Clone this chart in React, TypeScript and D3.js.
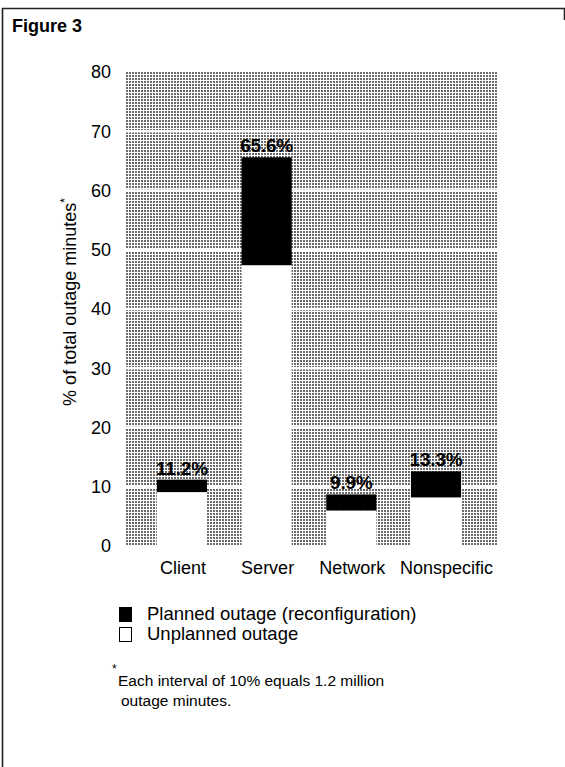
import * as d3 from 'd3';
import { useEffect, useRef } from 'react';

const categories = ['Client', 'Server', 'Network', 'Nonspecific'];
const unplanned = [9.1, 47.4, 6.0, 8.2];
const planned = [2.1, 18.2, 2.7, 4.4];
const totalLabels = ['11.2%', '65.6%', '9.9%', '13.3%'];
const yTicks = [0, 10, 20, 30, 40, 50, 60, 70, 80];
const legendItems = ['Planned outage (reconfiguration)', 'Unplanned outage'];
const footnoteLines = ['Each interval of 10% equals 1.2 million', 'outage minutes.'];

export default function App() {
    const ref = useRef<SVGSVGElement | null>(null);

    useEffect(() => {
        const svg = d3.select(ref.current);
        svg.selectAll('*').remove();

        const width = 565;
        const height = 767;
        const font = '"Liberation Sans", Arial, Helvetica, sans-serif';
        const plot = { left: 125, right: 497, top: 72, bottom: 546 };

        svg.attr('width', width).attr('height', height)
            .style('font-family', font);

        svg.append('rect').attr('width', width).attr('height', height).attr('fill', '#fff');

        // frame
        svg.append('path')
            .attr('d', `M2.5,${height} V8.5 H564.5 V20`)
            .attr('fill', 'none')
            .attr('stroke', '#222')
            .attr('stroke-width', 1.6);

        svg.append('text')
            .attr('x', 12).attr('y', 32)
            .attr('font-size', 18).attr('font-weight', 'bold')
            .text('Figure 3');

        // halftone screen behind the bars
        const defs = svg.append('defs');
        const pat = defs.append('pattern')
            .attr('id', 'screen')
            .attr('patternUnits', 'userSpaceOnUse')
            .attr('width', 3).attr('height', 3);
        pat.append('rect').attr('width', 3).attr('height', 3).attr('fill', '#fff');
        pat.append('rect').attr('width', 2).attr('height', 2).attr('fill', '#6a6a6a');

        const table = categories.map((c, i) => ({ category: c, unplanned: unplanned[i], planned: planned[i] }));
        const series = d3.stack<any>().keys(['unplanned', 'planned'])(table);

        const x = d3.scaleBand()
            .domain(categories)
            .range([plot.left, plot.right])
            .paddingInner(0.408)
            .paddingOuter(0.4)
            .align(0.47);

        const y = d3.scaleLinear()
            .domain([0, 80])
            .range([plot.bottom, plot.top]);

        svg.append('rect')
            .attr('x', plot.left).attr('y', plot.top)
            .attr('width', plot.right - plot.left)
            .attr('height', plot.bottom - plot.top)
            .attr('fill', 'url(#screen)');

        svg.append('g')
            .selectAll('line')
            .data(yTicks.filter(t => t > 0 && t < 80))
            .enter()
            .append('line')
            .attr('x1', plot.left).attr('x2', plot.right)
            .attr('y1', d => y(d)).attr('y2', d => y(d))
            .attr('stroke', '#fff')
            .attr('stroke-width', 2.5);

        svg.append('g')
            .selectAll('text')
            .data(yTicks)
            .enter()
            .append('text')
            .attr('x', 111)
            .attr('y', d => y(d))
            .attr('dy', '0.35em')
            .attr('text-anchor', 'end')
            .attr('font-size', 18)
            .text(d => d);

        const fills = ['#fff', '#000'];
        svg.append('g')
            .selectAll('g')
            .data(series)
            .enter()
            .append('g')
            .attr('fill', (_, i) => fills[i])
            .selectAll('rect')
            .data(d => d)
            .enter()
            .append('rect')
            .attr('x', d => x(d.data.category)!)
            .attr('y', d => y(d[1]))
            .attr('width', x.bandwidth())
            .attr('height', d => y(d[0]) - y(d[1]));

        const top = series[series.length - 1];
        svg.append('g')
            .selectAll('text')
            .data(top)
            .enter()
            .append('text')
            .attr('x', d => x(d.data.category)! + x.bandwidth() / 2)
            .attr('y', d => y(d[1]) - 5)
            .attr('text-anchor', 'middle')
            .attr('font-size', 19)
            .attr('font-weight', 'bold')
            .attr('letter-spacing', -0.2)
            .text((_, i) => totalLabels[i]);

        // category labels, last one kept inside the plot edge
        svg.append('g')
            .selectAll('text')
            .data(categories)
            .enter()
            .append('text')
            .attr('x', (d, i) => i === categories.length - 1 ? plot.right - 4 : x(d)! + x.bandwidth() / 2 + 1)
            .attr('y', 574)
            .attr('text-anchor', (_, i) => i === categories.length - 1 ? 'end' : 'middle')
            .attr('font-size', 18)
            .text(d => d);

        const yl = svg.append('text')
            .attr('transform', 'translate(76,302) rotate(-90)')
            .attr('text-anchor', 'middle')
            .attr('font-size', 18);
        yl.append('tspan').text('% of total outage minutes');
        yl.append('tspan').attr('dy', -7).attr('font-size', 12).text('*');

        const legend = svg.append('g');
        legendItems.forEach((label, i) => {
            const ly = 620 + i * 20;
            legend.append('rect')
                .attr('x', 119.5).attr('y', ly - 12.5)
                .attr('width', 12).attr('height', 14)
                .attr('fill', fills[1 - i])
                .attr('stroke', '#000')
                .attr('stroke-width', 1);
            legend.append('text')
                .attr('x', 147).attr('y', ly)
                .attr('font-size', 18.5)
                .text(label);
        });

        svg.append('text')
            .attr('x', 112).attr('y', 673)
            .attr('font-size', 12)
            .text('*');
        footnoteLines.forEach((line, i) => {
            svg.append('text')
                .attr('x', i === 0 ? 118 : 121)
                .attr('y', 686 + i * 20)
                .attr('font-size', 15.5)
                .text(line);
        });
    }, []);

    return <svg ref={ref} style={{ position: 'absolute', left: 0, top: 0 }}></svg>;
}
